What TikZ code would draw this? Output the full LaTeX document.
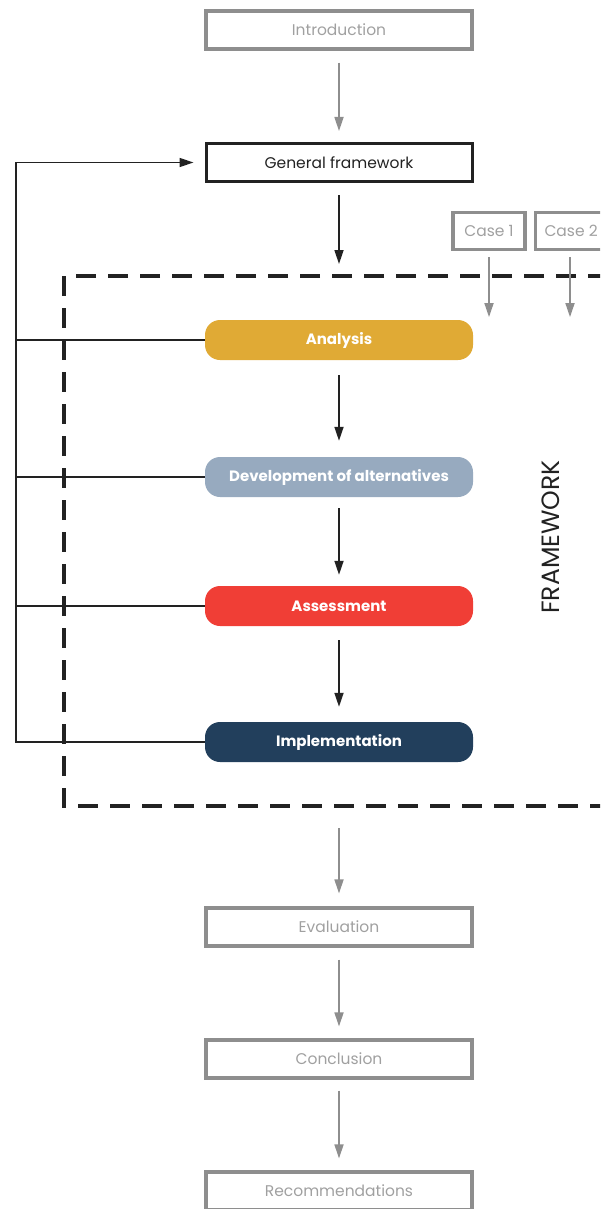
\documentclass[tikz,border=0pt]{standalone}
\usepackage{fontspec}
\setmainfont{Poppins}
\usetikzlibrary{arrows.meta,positioning}
\definecolor{boxgray}{HTML}{8E8E8E}
\definecolor{txtgray}{HTML}{A0A0A0}
\definecolor{linedark}{HTML}{222222}
\definecolor{cAnalysis}{HTML}{E0AA35}
\definecolor{cDevelop}{HTML}{97AABF}
\definecolor{cAssess}{HTML}{F03E36}
\definecolor{cImpl}{HTML}{223F5C}
\tikzset{
  outerbox/.style={draw=boxgray, line width=3.2pt, minimum width=266pt, minimum height=38pt,
    inner sep=0pt, text=txtgray, font=\fontsize{15.5}{18}\selectfont},
  mainbox/.style={draw=linedark, line width=3pt, minimum width=266pt, minimum height=38pt,
    inner sep=0pt, text=linedark, font=\fontsize{15.5}{18}\selectfont},
  casebox/.style={draw=boxgray, line width=3.2pt, minimum width=72pt, minimum height=37pt,
    inner sep=0pt, text=txtgray, font=\fontsize{15.5}{18}\selectfont},
  phase/.style={rounded corners=15pt, minimum width=268pt, minimum height=40pt,
    inner sep=0pt, text=white, font=\fontsize{15}{18}\selectfont\bfseries},
  grayarrow/.style={draw=boxgray, line width=1.7pt, -{Triangle[width=9pt,length=14pt]}},
  darkarrow/.style={draw=linedark, line width=1.7pt, -{Triangle[width=9pt,length=14pt]}},
  fbline/.style={draw=linedark, line width=1.5pt},
  frame/.style={draw=linedark, line width=3.4pt, dash pattern=on 20pt off 12pt},
}
\begin{document}
\begin{tikzpicture}[x=1pt,y=-1pt]
\useasboundingbox (0,0) rectangle (600,1209);
\clip (0,0) rectangle (600,1209);

% outer chapters and the general framework
\node[outerbox] (intro) at (339,30) {Introduction};
\node[mainbox] (gf) at (339,162.5) {General framework};
\node[outerbox] (eval) at (339,927) {Evaluation};
\node[outerbox] (concl) at (339,1059) {Conclusion};
\node[outerbox] (recom) at (339,1191) {Recommendations};

% cases feeding the framework
\node[casebox] (c1) at (489,231) {Case 1};
\node[casebox, anchor=west] (c2) at (533.5,231) {Case 2};

% dashed framework boundary
\draw[frame] (640,276) -- (64,276) -- (64,806) -- (640,806);
\node[rotate=90, text=linedark, font=\fontsize{25}{28}\selectfont] (fwlabel) at (551,537) {FRAMEWORK};

% framework phases
\node[phase, fill=cAnalysis] (ana) at (339,340) {Analysis};
\node[phase, fill=cDevelop] (dev) at (339,477) {Development of alternatives};
\node[phase, fill=cAssess] (ass) at (339,606) {Assessment};
\node[phase, fill=cImpl] (impl) at (339,742) {Implementation};

% main sequence
\draw[grayarrow, shorten <=12pt, shorten >=11pt] (intro.south) -- (gf.north);
\draw[darkarrow, shorten <=12pt, shorten >=12pt] (gf.south) -- (ana.north |- 0,276);
\draw[darkarrow, shorten <=15pt, shorten >=16pt] (ana.south) -- (dev.north);
\draw[darkarrow, shorten <=11pt, shorten >=11pt] (dev.south) -- (ass.north);
\draw[darkarrow, shorten <=14pt, shorten >=15pt] (ass.south) -- (impl.north);
\draw[grayarrow, shorten <=66pt, shorten >=13pt] (impl.south) -- (eval.north);
\draw[grayarrow, shorten <=12pt, shorten >=12pt] (eval.south) -- (concl.north);
\draw[grayarrow, shorten <=11pt, shorten >=12pt] (concl.south) -- (recom.north);

% case inputs
\draw[grayarrow] ([yshift=-6pt]c1.south) -- ++(0,60);
\draw[grayarrow] ([yshift=-6pt]c1.south -| 570,0) -- ++(0,60);

% feedback loop back to the general framework
\coordinate (fb) at (16,742);
\draw[fbline] (ana.west) -- (ana.west -| fb);
\draw[fbline] (dev.west) -- (dev.west -| fb);
\draw[fbline] (ass.west) -- (ass.west -| fb);
\draw[fbline, -{Triangle[width=9pt,length=14pt]}, shorten >=11pt] (impl.west) -- (fb) |- (gf.west);
\end{tikzpicture}
\end{document}
